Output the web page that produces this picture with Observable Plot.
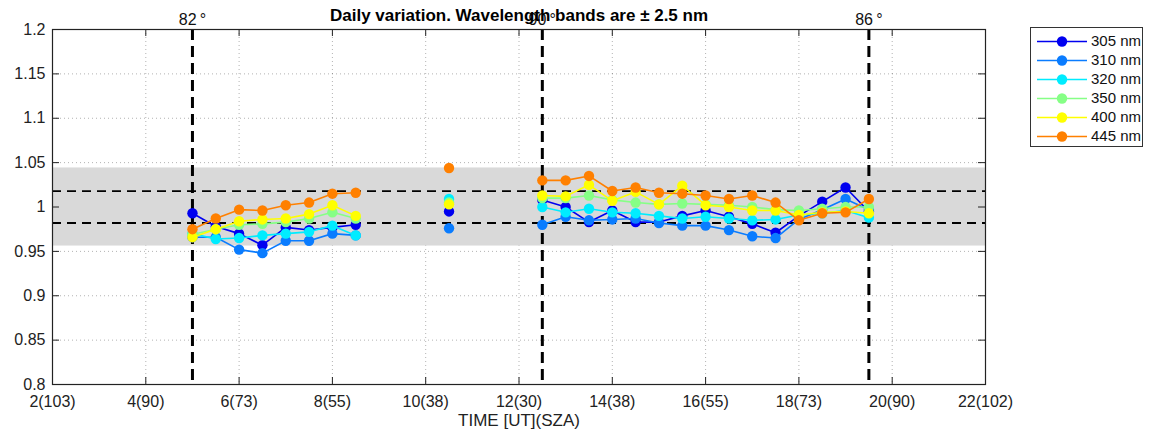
<!DOCTYPE html>
<html>
<head>
<meta charset="utf-8">
<script src="https://cdn.jsdelivr.net/npm/d3@7"></script>
<script src="https://cdn.jsdelivr.net/npm/@observablehq/plot@0.6"></script>
<style>
  html, body { margin: 0; padding: 0; background: #fff; }
  #wrap { position: relative; width: 1155px; height: 440px; font-family: "Liberation Sans", Arial, sans-serif; }
  #legend { position: absolute; left: 1030px; top: 27px; width: 113px; height: 120px; border: 1px solid #333; background: #fff; box-sizing: border-box; }
  #legend .row { position: absolute; left: 0; height: 19px; width: 112px; }
  #legend svg { position: absolute; left: 4px; top: 0; }
  #legend span { position: absolute; left: 60px; top: 0px; font-size: 15px; color: #111; }
</style>
</head>
<body>
<div id="wrap"><div id="legend"></div></div>
<script>
// ---- data ----
const time    = [5, 5.5, 6, 6.5, 7, 7.5, 8, 8.5, 10.5,
                 12.5, 13, 13.5, 14, 14.5, 15, 15.5, 16, 16.5, 17, 17.5, 18, 18.5, 19, 19.5];
const segment = [1, 1, 1, 1, 1, 1, 1, 1, 2,
                 3, 3, 3, 3, 3, 3, 3, 3, 3, 3, 3, 3, 3, 3, 3];
const seriesNames  = ["305 nm", "310 nm", "320 nm", "350 nm", "400 nm", "445 nm"];
const seriesColors = ["#0000f0", "#0a7cff", "#00ecff", "#86ff86", "#ffff00", "#ff8000"];
const v305 = [0.993, 0.978, 0.970, 0.957, 0.977, 0.974, 0.977, 0.980, 0.995,
              1.008, 1.000, 0.983, 0.996, 0.983, 0.983, 0.990, 0.996, 0.989, 0.981, 0.971, 0.990, 1.006, 1.022, 0.995];
const v310 = [0.966, 0.966, 0.952, 0.948, 0.962, 0.962, 0.970, 0.968, 0.976,
              0.980, 0.989, 0.985, 0.986, 0.987, 0.982, 0.979, 0.979, 0.974, 0.967, 0.965, 0.986, 0.997, 1.009, 0.997];
const v320 = [0.970, 0.964, 0.965, 0.968, 0.970, 0.972, 0.979, 0.968, 1.009,
              1.000, 0.994, 0.998, 0.994, 0.993, 0.990, 0.987, 0.989, 0.987, 0.985, 0.986, 0.991, 0.993, 0.996, 0.988];
const v350 = [0.969, 0.975, 0.980, 0.981, 0.983, 0.987, 0.994, 0.987, 1.005,
              1.010, 1.010, 1.013, 1.008, 1.005, 1.003, 1.004, 1.003, 1.002, 1.000, 0.997, 0.996, 0.998, 1.000, 1.000];
const v400 = [0.966, 0.975, 0.984, 0.986, 0.987, 0.992, 1.002, 0.990, 1.003,
              1.013, 1.012, 1.025, 1.007, 1.017, 1.003, 1.024, 1.002, 1.000, 0.996, 0.996, 0.991, 0.994, 0.995, 0.993];
const v445 = [0.975, 0.987, 0.997, 0.996, 1.002, 1.005, 1.015, 1.016, 1.044,
              1.030, 1.030, 1.035, 1.018, 1.022, 1.016, 1.015, 1.013, 1.009, 1.013, 1.005, 0.985, 0.993, 0.994, 1.009];
const seriesValues = [v305, v310, v320, v350, v400, v445];

const xTicks = [2, 4, 6, 8, 10, 12, 14, 16, 18, 20, 22];
const xTickLabels = ["2(103)", "4(90)", "6(73)", "8(55)", "10(38)", "12(30)", "14(38)", "16(55)", "18(73)", "20(90)", "22(102)"];
const yTicks = [0.8, 0.85, 0.9, 0.95, 1, 1.05, 1.1, 1.15, 1.2];
const xDomain = [2, 22];
const yDomain = [0.8, 1.2];
const band = [0.956, 1.044];
const limits = [0.982, 1.018];
const szaTimes  = [5, 12.5, 19.5];
const szaLabels = ["82\u2009°", "90\u2009°", "86\u2009°"];
const title = "Daily variation. Wavelength bands are \u00b1 2.5 nm";
const xLabel = "TIME [UT](SZA)";

// ---- layout ----
const W = 1155, H = 440;
const mL = 52, mR = 170, mT = 29, mB = 56;
const innerW = W - mL - mR, innerH = H - mT - mB;
const tickLen = 7;

const seriesMarks = seriesNames.flatMap((name, si) => {
  const rows = time.map((t, i) => ({t, v: seriesValues[si][i], seg: segment[i]}));
  return [
    Plot.line(rows, {x: "t", y: "v", z: "seg", stroke: seriesColors[si], strokeWidth: 1.6}),
    Plot.dot(rows, {x: "t", y: "v", r: 5.2, fill: seriesColors[si], stroke: "none"})
  ];
});

const chart = Plot.plot({
  width: W, height: H,
  marginLeft: mL, marginRight: mR, marginTop: mT, marginBottom: mB,
  style: {fontFamily: "'Liberation Sans', Arial, sans-serif", fontSize: "16px", background: "white", color: "#222"},
  x: {domain: xDomain, axis: null},
  y: {domain: yDomain, axis: null},
  marks: [
    Plot.gridX(xTicks, {stroke: "#000", strokeOpacity: 0.3, strokeDasharray: "1,3"}),
    Plot.gridY(yTicks, {stroke: "#000", strokeOpacity: 0.3, strokeDasharray: "1,3"}),
    Plot.rectY([band], {y1: d => d[0], y2: d => d[1], fill: "#d9d9d9"}),
    Plot.ruleY(limits, {stroke: "#000", strokeWidth: 1.8, strokeDasharray: "9,6"}),
    Plot.ruleX(szaTimes, {stroke: "#000", strokeWidth: 3, strokeDasharray: "11,6"}),
    ...seriesMarks,
    // inward ticks
    Plot.ruleX(xTicks, {stroke: "#222", insetTop: innerH - tickLen}),
    Plot.ruleX(xTicks, {stroke: "#222", insetBottom: innerH - tickLen}),
    Plot.ruleY(yTicks, {stroke: "#222", insetRight: innerW - tickLen}),
    Plot.ruleY(yTicks, {stroke: "#222", insetLeft: innerW - tickLen}),
    Plot.frame({stroke: "#222", strokeWidth: 1.2}),
    Plot.axisX({ticks: xTicks, tickFormat: (d, i) => xTickLabels[i], tickSize: 0, tickPadding: 11, label: null, fontSize: 16}),
    Plot.axisY({ticks: yTicks, tickFormat: d => String(+d.toFixed(2)), tickSize: 0, tickPadding: 7, label: null, fontSize: 16}),
    Plot.text([xLabel], {text: d => d, frameAnchor: "bottom", dy: 41, fontSize: 17, fill: "#222"}),
    Plot.text(szaTimes, {x: d => d, text: (d, i) => szaLabels[i], frameAnchor: "top", dy: -16, fontSize: 16, fill: "#111"}),
    Plot.text([title], {text: d => d, frameAnchor: "top", dy: -21, fontSize: 17, fontWeight: "bold", fill: "#000"})
  ]
});
const wrap = document.getElementById("wrap");
wrap.insertBefore(chart, wrap.firstChild);

// legend
const legend = document.getElementById("legend");
seriesNames.forEach((name, i) => {
  const row = document.createElement("div");
  row.className = "row";
  row.style.top = (4 + i * 19) + "px";
  row.innerHTML = `<svg width="54" height="19"><line x1="2" x2="52" y1="9.5" y2="9.5" stroke="${seriesColors[i]}" stroke-width="1.5"/><circle cx="27" cy="9.5" r="5.2" fill="${seriesColors[i]}"/></svg><span>${name}</span>`;
  legend.appendChild(row);
});
</script>
</body>
</html>
